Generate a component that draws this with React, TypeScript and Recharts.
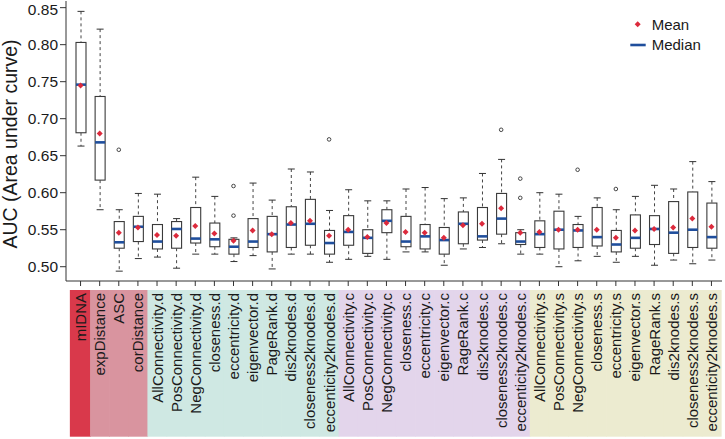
import React from "react";
import { ComposedChart, Bar, Line, XAxis, YAxis, Legend } from "recharts";

const categories = [
  "mIDNA", "expDistance", "ASC", "corDistance",
  "AllConnectivity.d", "PosConnectivity.d", "NegConnectivity.d", "closeness.d", "eccentricity.d",
  "eigenvector.d", "PageRank.d", "dis2knodes.d", "closeness2knodes.d", "eccenticity2knodes.d",
  "AllConnectivity.c", "PosConnectivity.c", "NegConnectivity.c", "closeness.c", "eccentricity.c",
  "eigenvector.c", "RageRank.c", "dis2knodes.c", "closeness2knodes.c", "eccenticity2knodes.c",
  "AllConnectivity.s", "PosConnectivity.s", "NegConnectivity.s", "closeness.s", "eccentricity.s",
  "eigenvector.s", "RageRank.s", "dis2knodes.s", "closeness2knodes.s", "eccenticity2knodes.s",
];

const whiskerLow = [
  0.663, 0.577, 0.494, 0.511,
  0.513, 0.498, 0.517, 0.517, 0.507, 0.515, 0.497, 0.517, 0.517, 0.506,
  0.510, 0.514, 0.510, 0.520, 0.520, 0.502, 0.524, 0.526, 0.531, 0.517,
  0.517, 0.500, 0.508, 0.514, 0.506, 0.514, 0.502, 0.509, 0.504, 0.509,
];
const q1 = [
  0.681, 0.617, 0.525, 0.534,
  0.524, 0.525, 0.532, 0.527, 0.517, 0.526, 0.520, 0.526, 0.529, 0.517,
  0.529, 0.518, 0.546, 0.527, 0.524, 0.517, 0.531, 0.536, 0.544, 0.530,
  0.526, 0.524, 0.526, 0.528, 0.520, 0.525, 0.530, 0.518, 0.526, 0.525,
];
const medians = [
  0.746, 0.668, 0.533, 0.554,
  0.534, 0.551, 0.538, 0.537, 0.527, 0.534, 0.544, 0.557, 0.558, 0.532,
  0.547, 0.539, 0.562, 0.534, 0.541, 0.536, 0.558, 0.541, 0.565, 0.534,
  0.544, 0.550, 0.549, 0.540, 0.530, 0.539, 0.551, 0.546, 0.550, 0.540,
];
const q3 = [
  0.803, 0.730, 0.561, 0.568,
  0.557, 0.561, 0.580, 0.559, 0.537, 0.565, 0.568, 0.581, 0.591, 0.549,
  0.569, 0.550, 0.577, 0.568, 0.557, 0.553, 0.574, 0.580, 0.599, 0.546,
  0.562, 0.575, 0.557, 0.580, 0.549, 0.570, 0.569, 0.588, 0.601, 0.586,
];
const whiskerHigh = [
  0.845, 0.821, 0.577, 0.599,
  0.598, 0.565, 0.621, 0.595, 0.539, 0.613, 0.590, 0.632, 0.628, 0.576,
  0.604, 0.589, 0.589, 0.605, 0.607, 0.592, 0.593, 0.626, 0.645, 0.550,
  0.600, 0.598, 0.568, 0.593, 0.577, 0.595, 0.610, 0.605, 0.642, 0.615,
];
const means = [
  0.745, 0.680, 0.546, 0.553,
  0.543, 0.542, 0.555, 0.545, 0.535, 0.549, 0.544, 0.559, 0.562, 0.542,
  0.550, 0.540, 0.559, 0.547, 0.546, 0.539, 0.556, 0.558, 0.579, 0.546,
  0.547, 0.550, 0.550, 0.550, 0.539, 0.549, 0.551, 0.553, 0.565, 0.554,
];
// outliers: [category, value]
const outliers: [string, number][] = [
  ["ASC", 0.658],
  ["eccentricity.d", 0.609], ["eccentricity.d", 0.569],
  ["eccenticity2knodes.d", 0.672],
  ["closeness2knodes.c", 0.685],
  ["eccenticity2knodes.c", 0.619], ["eccenticity2knodes.c", 0.593],
  ["NegConnectivity.s", 0.631],
  ["eccentricity.s", 0.605],
];
const yTicks = [0.5, 0.55, 0.6, 0.65, 0.7, 0.75, 0.8, 0.85];

const data = categories.map((name, i) => {
  const outs = outliers.filter((o) => o[0] === name).map((o) => o[1]);
  return {
    name,
    range: [whiskerLow[i], whiskerHigh[i]],
    lo: whiskerLow[i], q1: q1[i], med: medians[i], q3: q3[i], hi: whiskerHigh[i],
    mean: means[i],
    out1: outs[0] ?? null,
    out2: outs[1] ?? null,
  };
});

const bandColor = (name: string, i: number) => {
  if (i === 0) return "#d9394b";
  if (i < 4) return "#d9949f";
  if (name.endsWith(".d")) return "#cfe8e3";
  if (name.endsWith(".c")) return "#e3d5eb";
  return "#ecebd0";
};

const FONT = "'Liberation Sans', Arial, Helvetica, sans-serif";

const BoxShape = (props: any) => {
  const { x, y, width, height, payload } = props;
  if (x == null || y == null) return <g />;
  const { lo, hi, q1, q3, med } = payload;
  const pix = (v: number) => y + ((hi - v) / (hi - lo)) * height;
  const cx = x + width / 2;
  const bw = 10;
  const cap = 7;
  return (
    <g>
      <line x1={cx} x2={cx} y1={pix(hi)} y2={pix(q3)} stroke="#444" strokeDasharray="3 3" />
      <line x1={cx} x2={cx} y1={pix(q1)} y2={pix(lo)} stroke="#444" strokeDasharray="3 3" />
      <line x1={cx - cap / 2} x2={cx + cap / 2} y1={pix(hi)} y2={pix(hi)} stroke="#333" />
      <line x1={cx - cap / 2} x2={cx + cap / 2} y1={pix(lo)} y2={pix(lo)} stroke="#333" />
      <rect x={cx - bw / 2} y={pix(q3)} width={bw} height={pix(q1) - pix(q3)} fill="#fff" stroke="#3a3a3a" strokeWidth={1.1} />
      <line x1={cx - bw / 2} x2={cx + bw / 2} y1={pix(med)} y2={pix(med)} stroke="#1f4e9c" strokeWidth={2.6} />
    </g>
  );
};

const MeanDot = (props: any) => {
  const { cx, cy, index } = props;
  if (cx == null || cy == null || isNaN(cy)) return <g key={`m${index}`} />;
  const r = 3;
  return (
    <polygon key={`m${index}`} points={`${cx},${cy - r} ${cx + r},${cy} ${cx},${cy + r} ${cx - r},${cy}`} fill="#dc2a3c" />
  );
};

const OutlierDot = (props: any) => {
  const { cx, cy, value, index, dataKey } = props;
  if (value == null || cx == null || cy == null || isNaN(cy)) return <g key={`${dataKey}${index}`} />;
  return <circle key={`${dataKey}${index}`} cx={cx} cy={cy} r={1.8} fill="none" stroke="#333" strokeWidth={0.9} />;
};

const CategoryTick = (props: any) => {
  const { x, y, payload, index } = props;
  const name = payload.value as string;
  const left = index === 0 ? x - 10.7 : x - 9.6;
  const w = index === 0 ? 21 : 19.8;
  return (
    <g>
      <rect x={left} y={y + 2} width={w} height={146.7} fill={bandColor(name, index)} />
      <text
        transform={`translate(${x + 5.5},${y + 5}) rotate(-90)`}
        textAnchor="end"
        fontSize={15}
        fill="#1a1a1a"
        fontFamily={FONT}
      >
        {name}
      </text>
    </g>
  );
};

const LegendBox = () => (
  <svg width={95} height={44} style={{ fontFamily: FONT }}>
    <polygon points="9.7,7.3 12.7,10.3 9.7,13.3 6.7,10.3" fill="#dc2a3c" />
    <line x1={2.3} x2={17.7} y1={31} y2={31} stroke="#1f4e9c" strokeWidth={2.6} />
    <text x={23.7} y={15.5} fontSize={15} fill="#1a1a1a">Mean</text>
    <text x={23.7} y={36.2} fontSize={15} fill="#1a1a1a">Median</text>
  </svg>
);

const YLabel = (props: any) => {
  const { viewBox } = props;
  const cy = viewBox.y + viewBox.height / 2 + 3;
  return (
    <text transform={`translate(16.5,${cy}) rotate(-90)`} textAnchor="middle" fontSize={19.5} fill="#1a1a1a" fontFamily={FONT}>
      AUC (Area under curve)
    </text>
  );
};

export default function App() {
  return (
    <div style={{ width: 725, height: 439, background: "#fff", fontFamily: FONT }}>
      <style>{"body{margin:0}"}</style>
      <ComposedChart width={725} height={439} data={data} margin={{ top: 1, right: 3, bottom: 0, left: 0 }}>
        <XAxis
          dataKey="name"
          type="category"
          interval={0}
          height={158}
          tick={<CategoryTick />}
          tickSize={5}
          tickMargin={2}
          tickLine={{ stroke: "#333" }}
          axisLine={{ stroke: "#333" }}
          padding={{ left: 5, right: 1 }}
        />
        <XAxis xAxisId="top" orientation="top" dataKey="name" height={0} tick={false} tickLine={false} axisLine={{ stroke: "#333" }} />
        <YAxis
          domain={[0.4807, 0.859]}
          ticks={yTicks}
          allowDataOverflow
          width={66}
          tickSize={6}
          tickMargin={2}
          tickFormatter={(v: number) => v.toFixed(2)}
          tick={{ fill: "#1a1a1a", fontSize: 15.5, fontFamily: FONT }}
          tickLine={{ stroke: "#333" }}
          axisLine={{ stroke: "#333" }}
          label={<YLabel />}
        />
        <YAxis yAxisId="right" orientation="right" width={0} tick={false} tickLine={false} axisLine={{ stroke: "#333" }} />
        <Legend
          layout="horizontal"
          verticalAlign="middle"
          align="center"
          content={() => <LegendBox />}
          wrapperStyle={{ position: "absolute", top: 14, left: 628, width: 95, height: 44 }}
        />
        <Bar dataKey="range" barSize={10} shape={<BoxShape />} isAnimationActive={false} legendType="none" />
        <Line dataKey="mean" stroke="none" dot={MeanDot} activeDot={false} isAnimationActive={false} legendType="none" />
        <Line dataKey="out1" stroke="none" dot={OutlierDot} activeDot={false} isAnimationActive={false} legendType="none" />
        <Line dataKey="out2" stroke="none" dot={OutlierDot} activeDot={false} isAnimationActive={false} legendType="none" />
      </ComposedChart>
    </div>
  );
}
